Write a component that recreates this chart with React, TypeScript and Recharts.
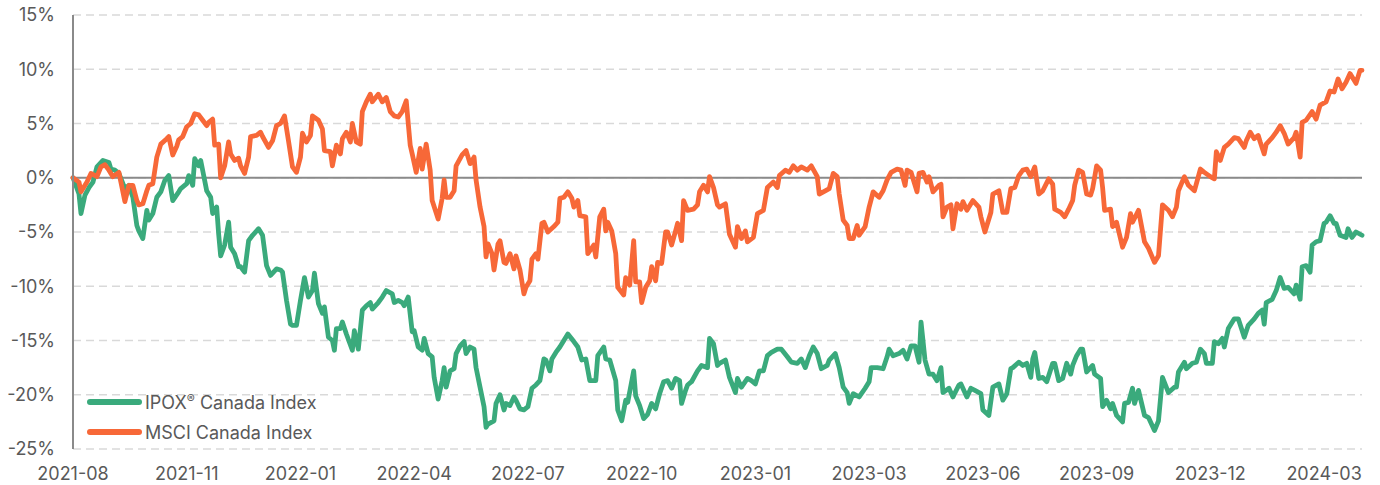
import { LineChart, Line, XAxis, YAxis, CartesianGrid, ReferenceLine } from "recharts";

// x axis: trading-day index, labels every 57 days
const monthLabels = [
  "2021-08", "2021-11", "2022-01", "2022-04", "2022-07", "2022-10",
  "2023-01", "2023-03", "2023-06", "2023-09", "2023-12", "2024-03",
];
const tickStep = 57;
const lastDay = 646;
const yTicks = [15, 10, 5, 0, -5, -10, -15, -20, -25];

const ipoxDays = [
  0, 3, 4, 6, 8, 10, 12, 15, 18, 19, 21, 23, 26, 28, 30, 32, 33, 35, 37, 38, 40, 42, 44, 46, 48, 50, 53, 54, 57, 58,
  60, 61, 63, 64, 67, 69, 70, 72, 73, 74, 76, 78, 79, 81, 83, 84, 86, 88, 90, 93, 95, 97, 99, 102,
  104, 105, 107, 109, 110, 112, 114, 116, 118, 120, 121, 123, 125, 126, 128, 130, 131, 132, 134, 135, 137, 140, 141,
  143, 145, 147, 149, 150, 153, 155, 157, 160, 161, 163, 165, 166, 168, 170, 171, 173, 175, 176, 178, 180, 181, 183,
  185, 186, 187, 189, 191, 192, 194, 196, 197, 199, 201, 202, 204, 206, 207, 208, 211, 212,
  214, 216, 217, 219, 221, 222, 224, 226, 228, 230, 232, 234, 236, 237, 239, 240, 242, 244, 246, 248, 251, 253, 255,
  257, 259, 262, 263, 266, 267, 269, 272, 273, 275, 277, 278, 281, 282, 284, 286, 288, 290, 292, 294, 296, 298, 300,
  302, 304, 305, 307, 308, 310, 313, 315, 318, 319, 321, 323,
  324, 327, 329, 332, 333, 335, 338, 340, 342, 344, 346, 348, 350, 353, 355, 358, 360, 363, 365, 367, 369, 371, 373,
  375, 378, 379, 382, 384, 386, 388, 389, 391, 393, 394, 397, 399, 400, 403, 406, 408, 409, 411, 414, 416, 418, 420,
  422, 424, 425, 427, 429, 431, 433,
  435, 436, 439, 441, 444, 445, 448, 450, 452, 455, 456, 459, 461, 464, 466, 468, 470, 471, 474, 476, 478, 480, 481,
  482, 484, 486, 488, 491, 492, 494, 496, 498, 500, 501, 503, 505, 506, 508, 511, 512, 515, 516, 518, 520, 521, 523,
  526, 527, 529, 531, 532, 534, 537, 539, 542, 544,
  546, 549, 552, 553, 554, 557, 558, 561, 563, 565, 567, 568, 571, 572, 574, 576, 577, 579, 582, 584, 587, 589, 592,
  594, 596, 597, 598, 601, 603, 605, 607, 609, 612, 613, 615, 616, 618, 620, 621, 623, 625, 627, 628, 630, 632, 633,
  635, 638, 639, 641, 643, 646,
];
const ipoxValues = [
  0, -1.5, -3.3, -1.6, -0.9, -0.4, 1.0, 1.6, 1.4, 0.8, 0.7, 0.4, -1.0, -0.7, -1.8, -4.4, -4.9, -5.6, -3.0, -3.9, -3.3, -1.8, -1.3, -0.25, 0.2, -2.1, -1.3, -1.0, -0.55, 0.2,
  -0.7, 1.75, 1.1, 1.6, -1.2, -1.8, -3.3, -2.7, -5.2, -7.2, -6.2, -4.1, -6.4, -7.0, -8.2, -8.2, -8.7, -5.8, -5.3, -4.7, -5.3, -8.1, -9.0, -8.4,
  -8.5, -8.7, -11.3, -13.5, -13.6, -13.6, -11.3, -9.2, -11.0, -10.4, -8.8, -11.6, -12.5, -11.9, -14.7, -15.0, -15.9, -13.9, -13.9, -13.3, -14.4, -15.9, -14.1,
  -15.8, -12.2, -11.8, -11.5, -12.1, -11.5, -11.0, -10.4, -10.7, -11.5, -11.3, -11.5, -11.8, -11.0, -14.2, -14.1, -15.6, -15.9, -14.8, -16.2, -16.5, -18.4, -20.4,
  -18.7, -17.5, -19.3, -17.8, -17.6, -16.2, -15.5, -15.1, -16.2, -15.6, -15.8, -17.5, -19.3, -21.1, -23.0, -22.7, -22.4, -20.8,
  -20.0, -21.4, -20.8, -21.0, -20.2, -20.5, -21.3, -21.4, -21.1, -19.4, -19.1, -18.7, -16.7, -16.8, -17.8, -16.7, -16.1, -15.6, -15.0, -14.4, -15.1, -15.6, -16.8,
  -16.7, -18.7, -18.7, -16.4, -15.6, -16.7, -16.8, -18.7, -21.4, -22.4, -20.5, -20.7, -17.8, -20.1, -21.0, -22.2, -21.8, -20.8, -21.3, -19.9, -18.8, -18.7, -19.4,
  -18.5, -18.7, -20.8, -19.6, -19.1, -18.8, -17.8, -17.3, -17.5, -14.8, -15.3, -17.3,
  -17.1, -16.8, -18.4, -19.8, -18.5, -19.3, -18.5, -18.7, -19.0, -17.8, -17.8, -16.4, -16.1, -15.8, -15.8, -16.5, -17.0, -17.1, -16.7, -17.5, -16.4, -15.6, -16.2,
  -17.6, -17.3, -16.8, -16.2, -17.5, -19.3, -19.8, -20.8, -19.9, -20.1, -20.2, -19.4, -18.8, -17.5, -17.5, -17.6, -16.5, -15.8, -16.4, -16.2, -15.9, -16.7, -15.5,
  -15.5, -17.0, -13.3, -16.8, -18.1, -18.1, -18.7,
  -17.5, -19.8, -19.4, -20.2, -19.1, -19.0, -20.2, -19.4, -19.6, -19.9, -21.4, -21.9, -19.3, -19.0, -20.5, -19.9, -17.6, -17.5, -17.0, -17.3, -17.1, -18.4, -16.7,
  -16.1, -18.5, -18.4, -18.8, -17.1, -17.1, -18.7, -18.5, -17.1, -18.1, -17.3, -16.4, -15.8, -15.8, -17.9, -17.3, -18.1, -18.5, -21.1, -20.5, -21.3, -20.8, -21.9,
  -22.5, -20.8, -20.7, -19.4, -20.8, -19.6, -21.9, -22.1, -23.3, -22.4,
  -18.4, -19.8, -19.3, -19.3, -17.9, -17.0, -17.6, -17.1, -17.0, -15.8, -16.2, -17.1, -17.1, -15.1, -15.3, -14.8, -15.6, -13.9, -13.0, -13.0, -14.7, -13.6, -13.0,
  -12.5, -12.2, -13.5, -11.5, -11.2, -10.4, -9.2, -10.2, -10.1, -10.7, -9.9, -11.2, -8.2, -8.1, -8.7, -6.2, -5.9, -5.8, -4.2, -4.1, -3.5, -4.2, -4.2,
  -5.3, -5.5, -4.7, -5.5, -5.0, -5.3,
];

const msciDays = [
  0, 3, 4, 7, 9, 12, 14, 16, 18, 20, 23, 24, 26, 28, 30, 32, 33, 35, 37, 38, 40, 42, 44, 47, 48, 50, 52, 53, 55, 57,
  59, 61, 63, 65, 67, 68, 70, 71, 73, 74, 76, 78, 79, 81, 83, 84, 86, 88, 89, 92, 94, 95, 98, 100, 102,
  104, 106, 108, 110, 112, 114, 115, 117, 119, 120, 123, 125, 126, 129, 130, 132, 134, 135, 137, 139, 140, 142, 144,
  145, 147, 149, 150, 153, 155, 157, 159, 161, 163, 165, 167, 169, 170, 172, 174, 175, 177, 179, 180, 183, 185, 186,
  187, 189, 191, 192, 195, 197, 199, 201, 202, 204, 206, 207, 208, 210, 211, 213,
  214, 216, 217, 219, 221, 222, 224, 226, 227, 229, 230, 232, 233, 235, 236, 238, 241, 243, 244, 246, 248, 250, 251,
  253, 254, 257, 258, 261, 262, 264, 266, 267, 268, 270, 272, 273, 276, 277, 279, 281, 282, 284, 285, 287, 289, 290,
  292, 293, 295, 297, 298, 300, 302, 303, 305, 306, 308, 311, 313, 314, 316, 318, 319, 321, 323,
  324, 327, 329, 332, 333, 335, 337, 338, 341, 343, 346, 348, 351, 353, 354, 357, 359, 361, 363, 365, 368, 370, 373,
  374, 377, 379, 381, 383, 384, 386, 388, 389, 391, 393, 394, 397, 399, 401, 404, 406, 408, 410, 413, 415, 417, 418,
  420, 423, 424, 426, 428, 429, 431, 434,
  435, 436, 438, 440, 441, 443, 445, 446, 448, 451, 454, 455, 457, 460, 461, 464, 466, 468, 470, 472, 474, 476, 478,
  480, 482, 484, 486, 489, 491, 492, 495, 497, 499, 501, 502, 504, 506, 508, 510, 511, 513, 515, 516, 517, 520, 521,
  523, 526, 528, 530, 531, 534, 537, 539, 542, 544,
  546, 549, 551, 553, 554, 557, 559, 562, 565, 567, 570, 572, 573, 575, 577, 579, 582, 584, 587, 588, 590, 592, 594,
  595, 597, 598, 601, 603, 605, 607, 609, 612, 613, 615, 616, 618, 621, 623, 625, 628, 630, 632, 634, 636, 638, 640,
  642, 643, 645, 646,
];
const msciValues = [
  0, -0.4, -1.3, -0.4, 0.4, 0.1, 1.0, 1.2, 0.7, 0.1, 0.5, -0.4, -2.2, -0.7, -0.7, -2.1, -2.5, -2.4, -1.2, -0.7, -0.55, 1.9, 3.1, 3.6, 3.8, 2.1, 2.9, 3.5, 3.8, 4.7,
  5.0, 5.9, 5.8, 5.3, 4.8, 5.1, 5.4, 3.0, 3.1, 0, 1.1, 3.3, 2.2, 1.6, 1.8, 1.1, 0.4, 1.9, 3.8, 3.9, 4.2, 3.8, 2.8, 3.4, 4.8,
  5.0, 5.7, 3.4, 1.0, 0.5, 1.9, 4.1, 3.3, 3.9, 5.7, 5.3, 4.5, 2.5, 2.4, 1.1, 3.0, 2.2, 3.6, 4.2, 3.3, 5.0, 3.3, 3.1,
  6.1, 7.0, 7.7, 7.0, 7.7, 7.0, 7.4, 6.1, 5.7, 5.6, 6.1, 7.1, 3.0, 2.2, 0.5, 2.7, 0.8, 3.1, 0.7, -2.1, -3.8, -1.9, -0.2,
  -1.8, -1.8, -1.2, 1.1, 2.1, 2.5, 1.3, 1.9, -0.2, -2.7, -4.5, -7.3, -6.1, -7.0, -8.5, -6.1,
  -5.8, -7.8, -7.9, -7.0, -8.4, -7.2, -8.5, -10.7, -10.1, -9.5, -7.5, -7.0, -7.5, -4.2, -4.1, -5.0, -4.5, -4.1, -1.9, -1.8, -1.3, -1.9, -2.7,
  -2.1, -3.5, -3.6, -7.0, -6.2, -7.3, -3.6, -2.9, -4.9, -4.1, -4.9, -7.0, -10.1, -10.8, -9.2, -9.9, -5.8, -9.6, -9.6, -11.5, -10.1, -9.5, -8.2,
  -9.5, -7.8, -7.9, -5.0, -5.0, -6.2, -4.9, -4.2, -5.8, -2.1, -3.0, -2.9, -2.5, -1.3, -0.7, -1.3, 0.1, -0.9, -2.5,
  -2.7, -2.4, -5.2, -6.4, -4.5, -5.6, -4.9, -5.9, -5.5, -3.3, -3.0, -0.9, -0.4, -0.9, 0.2, 0.7, 0.5, 1.1, 0.7, 1.0, 0.7, 1.1, 0.1,
  -1.5, -1.2, -1.0, 0.4, 0.1, -1.5, -3.9, -4.4, -5.6, -5.6, -4.4, -5.3, -4.5, -2.7, -1.3, -1.8, -1.2, -0.2, 0.5, 0.8, 0.7, -0.7, 0.7,
  0.5, -1.3, 0.4, 0.5, -0.4, 0.1, -1.3, -0.7,
  -0.6, -3.6, -2.7, -2.5, -4.7, -2.4, -2.9, -2.2, -3.0, -2.1, -2.7, -3.6, -5.0, -3.2, -1.5, -1.2, -3.2, -3.2, -1.0, -0.9, 0.2, 0.7, 0.8,
  0.1, 1.0, -1.5, -1.2, -0.1, -0.6, -2.9, -3.2, -3.6, -2.9, -2.1, -0.7, 0.7, 0.5, -1.5, -1.6, -1.0, 1.1, 0.7, -0.9, -3.0, -2.9, -4.5,
  -4.1, -6.4, -5.5, -3.3, -4.1, -3.0, -5.9, -6.5, -7.8, -7.2,
  -2.5, -3.0, -3.6, -2.7, -1.2, 0.1, -0.7, -1.2, 0.8, 0.5, 0.1, -0.1, 2.4, 1.6, 2.8, 3.1, 3.7, 3.6, 2.8, 3.4, 4.2, 3.6, 3.9,
  3.3, 2.2, 3.1, 3.7, 4.2, 4.8, 4.1, 3.1, 3.7, 4.2, 1.9, 5.1, 5.3, 6.1, 5.4, 6.7, 7.0, 8.0, 7.9, 9.1, 8.2, 8.8, 9.6,
  9.0, 8.7, 9.9, 9.9,
];

const GREEN = "#3aaa7c";
const ORANGE = "#f76838";
const TEXT = "#595959";
const FONT = "Inter, 'Noto Sans', sans-serif";

const ipoxData = ipoxDays.map((day, i) => ({ day, value: ipoxValues[i] }));
const msciData = msciDays.map((day, i) => ({ day, value: msciValues[i] }));
const xTicks = monthLabels.map((_, i) => i * tickStep);

const legendItems = [
  { label: "IPOX", mark: "®", rest: " Canada Index", color: GREEN },
  { label: "MSCI Canada Index", mark: "", rest: "", color: ORANGE },
];

export default function App() {
  return (
    <div style={{ position: "relative", width: 1380, height: 485, background: "#fff" }}>
      <style>{"body{margin:0}"}</style>
      <LineChart
        width={1380}
        height={485}
        margin={{ top: 15, right: 18, left: 0, bottom: 0 }}
      >
        <CartesianGrid
          vertical={false}
          stroke="#d9d9d9"
          strokeWidth={1.5}
          strokeDasharray="8 5"
        />
        <XAxis
          type="number"
          dataKey="day"
          domain={[0, lastDay]}
          ticks={xTicks}
          interval={0}
          tickFormatter={(v) => monthLabels[Math.round(v / tickStep)] ?? ""}
          axisLine={false}
          tickLine={false}
          tickSize={0}
          tickMargin={18}
          height={36}
          tick={{ fill: TEXT, fontSize: 18, fontFamily: FONT }}
        />
        <YAxis
          type="number"
          domain={[-25, 15]}
          ticks={yTicks}
          interval={0}
          width={73}
          tickFormatter={(v) => `${v}%`}
          axisLine={{ stroke: "#8a8a8a", strokeWidth: 2 }}
          tickLine={false}
          tickSize={0}
          tickMargin={18}
          tick={{ fill: TEXT, fontSize: 18, fontFamily: FONT }}
        />
        <ReferenceLine y={0} stroke="#8a8a8a" strokeWidth={2} />
        <Line
          data={ipoxData}
          dataKey="value"
          name="IPOX® Canada Index"
          type="linear"
          stroke={GREEN}
          strokeWidth={4.8}
          strokeLinejoin="round"
          strokeLinecap="round"
          dot={false}
          activeDot={false}
          isAnimationActive={false}
        />
        <Line
          data={msciData}
          dataKey="value"
          name="MSCI Canada Index"
          type="linear"
          stroke={ORANGE}
          strokeWidth={4.8}
          strokeLinejoin="round"
          strokeLinecap="round"
          dot={false}
          activeDot={false}
          isAnimationActive={false}
        />
      </LineChart>

      <div style={{ position: "absolute", left: 87, top: 387, fontFamily: FONT, fontSize: 18, color: TEXT }}>
        {legendItems.map((item) => (
          <div key={item.label} style={{ display: "flex", alignItems: "center", height: 30 }}>
            <span
              style={{
                display: "inline-block",
                width: 55,
                height: 6,
                borderRadius: 3,
                background: item.color,
                marginRight: 3,
              }}
            />
            <span>
              {item.label}
              {item.mark && <span style={{ fontSize: 12, verticalAlign: "6px" }}>{item.mark}</span>}
              {item.rest}
            </span>
          </div>
        ))}
      </div>
    </div>
  );
}
